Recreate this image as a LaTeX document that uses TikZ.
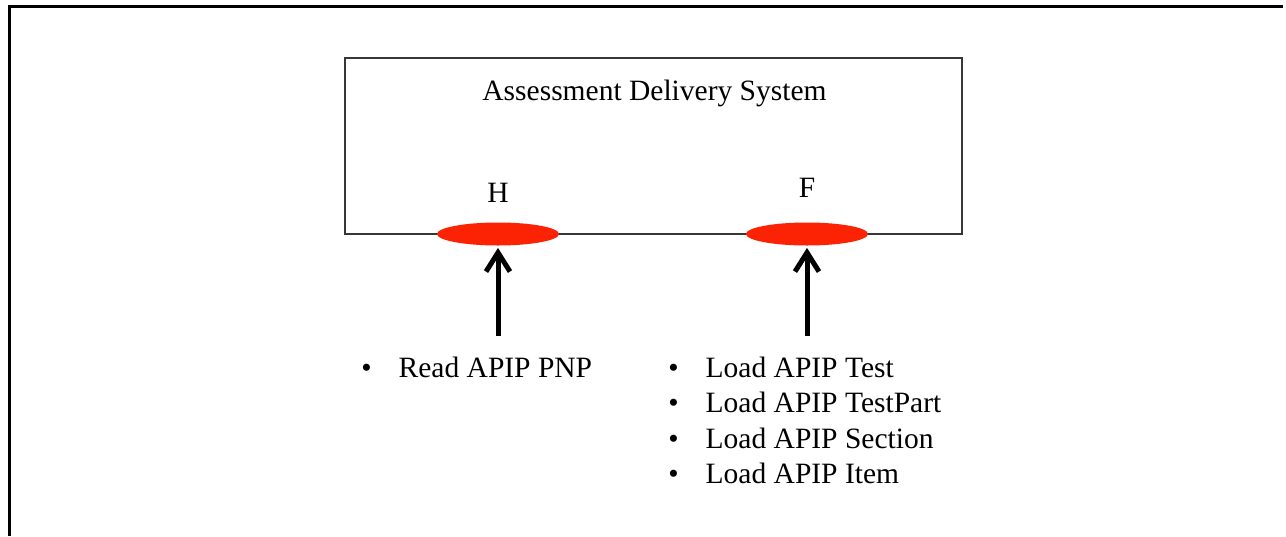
\documentclass[tikz,border=0pt]{standalone}
\usepackage{fontspec}
\setmainfont{Liberation Serif}
\usetikzlibrary{shapes.geometric,arrows.meta}

\definecolor{portred}{RGB}{252,34,4}
\definecolor{edgegray}{RGB}{55,55,55}

\tikzset{
  sysbox/.style={draw=edgegray, line width=1pt, minimum width=308.5pt, minimum height=88pt, inner sep=0pt},
  port/.style={ellipse, fill=portred, minimum width=61pt, minimum height=11.5pt, inner sep=0pt},
  lbl/.style={anchor=base, inner sep=0pt, font=\fontsize{14.75}{17.75}\selectfont},
  items/.style={anchor=north west, inner sep=0pt, font=\fontsize{14.75}{17.75}\selectfont},
  feed/.style={line width=2.5pt, -{Straight Barb[length=9.5pt, width=12pt]}, shorten >=1pt}
}

\newcommand{\bul}{\textbullet\hspace{13.5pt}}

\begin{document}
\begin{tikzpicture}[x=0.5pt, y=-0.5pt]
		\useasboundingbox (0,0) rectangle (1286,536);
		% outer frame (only left and top edges show)
		\draw[line width=1.5pt] (9,536) -- (9,6) -- (1283,6);

		\node[sysbox] (sys) at (653.5,146) {};
		\node[lbl] (title) at (654.5,100) {Assessment Delivery System};

		\node[port] (portH) at (498,234) {};
		\node[port] (portF) at (807,234) {};
		\node[lbl] (labH) at (498,202) {H};
		\node[lbl] (labF) at (807,197) {F};

		\coordinate (srcH) at (498,336);
		\coordinate (srcF) at (807,336);
		\draw[feed] (srcH) -- (portH);
		\draw[feed] (srcF) -- (portF);

		% operations at each port
		\node[items] (opsH) at (361,352) {\begin{tabular}{@{}l@{}}\bul Read APIP PNP\end{tabular}};
		\node[items] (opsF) at (668,352) {\begin{tabular}{@{}l@{}}
			\bul Load APIP Test\\
			\bul Load APIP TestPart\\
			\bul Load APIP Section\\
			\bul Load APIP Item
		\end{tabular}};
\end{tikzpicture}
\end{document}
